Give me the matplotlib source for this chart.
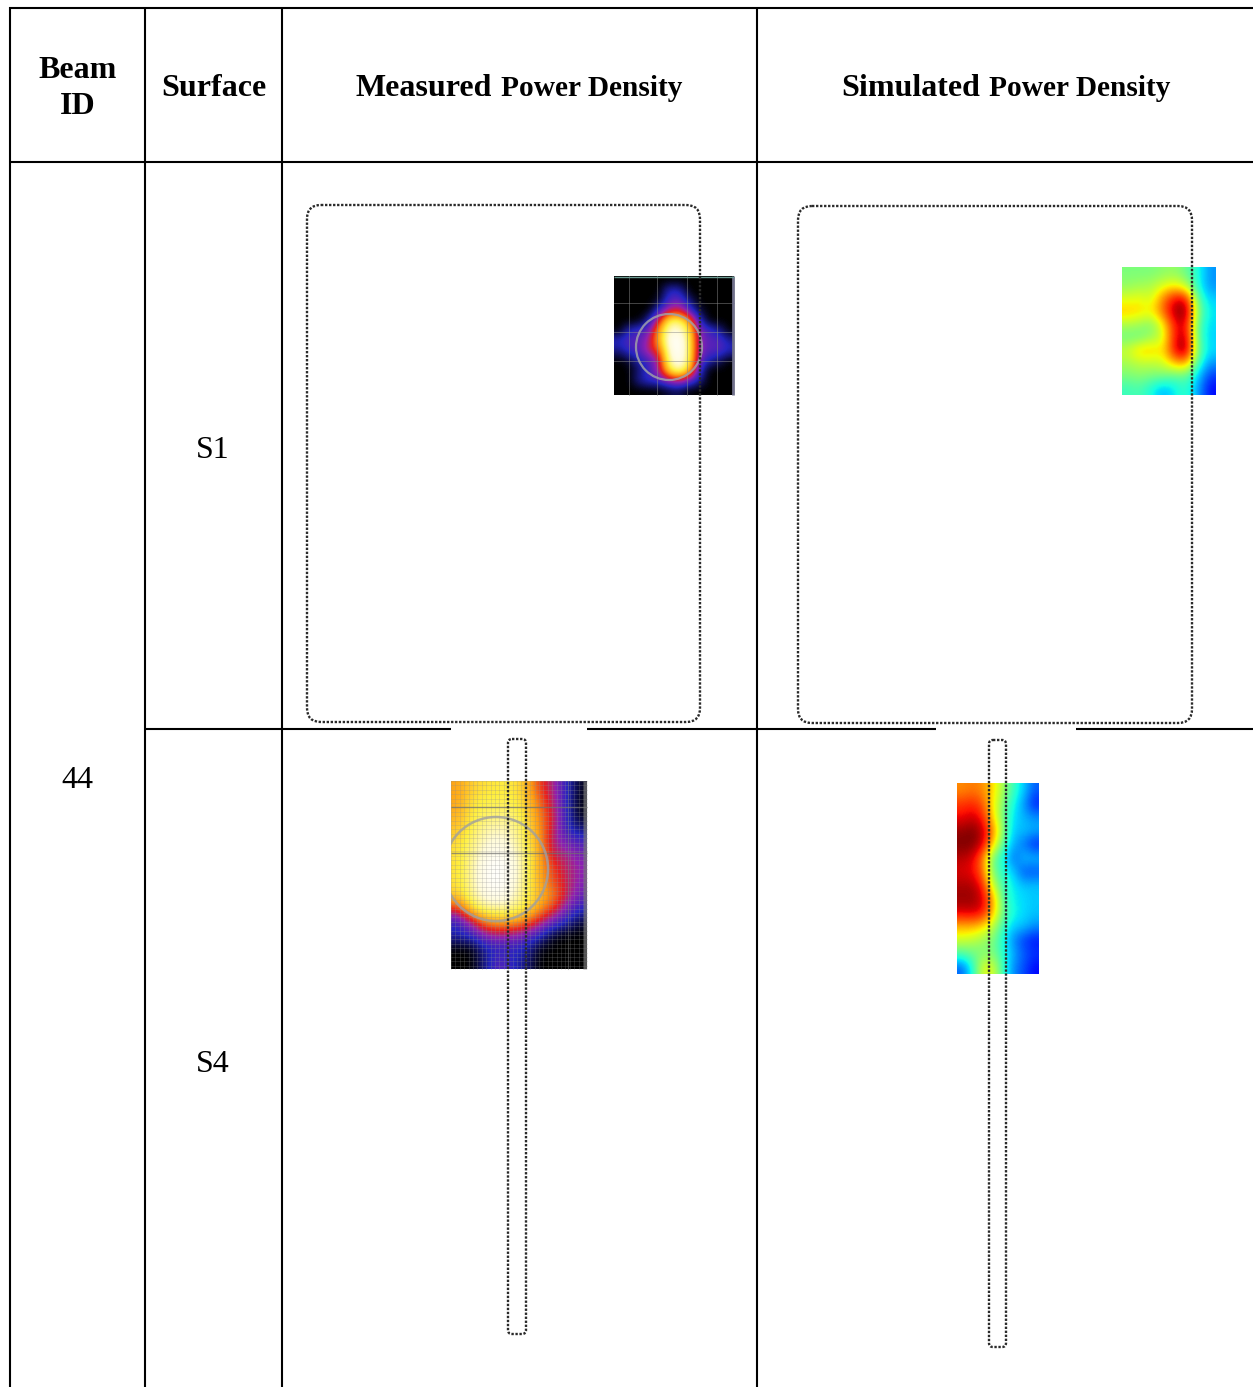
import numpy as np
import matplotlib
matplotlib.use("Agg")
import matplotlib.pyplot as plt
from matplotlib.colors import LinearSegmentedColormap
from matplotlib.patches import FancyBboxPatch, Circle, Rectangle

plt.rcParams["font.family"] = ["Liberation Serif", "DejaVu Serif"]

beam_id = "44"
surfaces = ["S1", "S4"]

# power density, read by eye, 0..1
measured_s1 = [
    [0, 0, 0, 0, 0, 0, 0, 0, 0, 0, 0, 0],
    [0, 0, 0, 0, 0, .16, .16, 0, 0, 0, 0, 0],
    [0, 0, 0, 0, .03, .2, .24, .1, 0, 0, 0, 0],
    [0, 0, 0, 0, .18, .36, .42, .22, .05, 0, 0, 0],
    [0, 0, 0, .14, .4, .78, .8, .6, .18, 0, 0, 0],
    [0, .15, .2, .24, .6, .9, .92, .75, .28, .2, .12, 0],
    [.16, .22, .22, .34, .62, .95, 1, .8, .3, .22, .22, .12],
    [.1, .18, .22, .36, .48, .9, 1, .8, .3, .22, .22, .15],
    [0, .04, .14, .2, .34, .85, .98, .8, .26, .14, .08, 0],
    [0, 0, .08, .18, .34, .72, .88, .68, .2, 0, 0, 0],
    [0, 0, .12, .18, .2, .32, .38, .26, .12, 0, 0, 0],
    [0, 0, 0, 0, 0, .04, .06, 0, 0, 0, 0, 0],
]
simulated_s1 = [
    [.5, .5, .5, .52, .53, .48, .38, .27],
    [.53, .55, .56, .62, .66, .58, .38, .27],
    [.62, .64, .6, .78, .92, .92, .44, .33],
    [.7, .68, .65, .8, .97, 1.0, .5, .35],
    [.56, .54, .5, .64, .9, .92, .44, .34],
    [.48, .48, .54, .6, .9, .96, .44, .33],
    [.6, .7, .7, .66, .92, 1.0, .47, .34],
    [.55, .58, .58, .6, .72, .74, .42, .27],
    [.5, .52, .5, .5, .46, .47, .32, .18],
    [.42, .44, .38, .3, .36, .42, .28, .13],
]
measured_s4 = [
    [.6, .68, .72, .74, .74, .66, .46, .34, .16, .02],
    [.6, .72, .76, .76, .76, .7, .52, .36, .15, .01],
    [.62, .74, .78, .8, .8, .72, .55, .4, .16, .01],
    [.66, .76, .84, .87, .84, .75, .58, .38, .16, .08],
    [.7, .8, .88, .92, .88, .76, .6, .34, .25, .2],
    [.72, .82, .93, .98, .92, .8, .62, .38, .34, .26],
    [.72, .84, .97, 1, .95, .8, .62, .46, .36, .3],
    [.72, .84, .97, 1, .94, .8, .62, .48, .38, .28],
    [.68, .82, .93, .97, .9, .78, .64, .56, .38, .24],
    [.44, .72, .82, .84, .83, .74, .6, .46, .26, .16],
    [.16, .34, .56, .62, .6, .54, .38, .24, .14, .04],
    [.14, .16, .28, .32, .3, .24, .16, .02, 0, 0],
    [0, 0, .12, .16, .16, .14, .01, 0, 0, 0],
    [0, 0, .1, .24, .16, .1, 0, 0, 0, 0],
]
simulated_s4 = [
    [.76, .78, .76, .68, .55, .42, .33, .22],
    [.85, .87, .82, .66, .5, .38, .28, .15],
    [.9, .93, .88, .68, .48, .35, .3, .27],
    [.98, 1, .95, .78, .52, .32, .32, .3],
    [1, 1, .93, .7, .45, .3, .24, .15],
    [.95, .92, .78, .48, .38, .22, .32, .32],
    [.92, .9, .8, .5, .4, .33, .2, .2],
    [.96, .96, .88, .6, .42, .36, .32, .32],
    [.98, .98, .93, .75, .45, .36, .34, .32],
    [.92, .93, .9, .72, .48, .38, .34, .32],
    [.72, .72, .68, .58, .42, .33, .32, .27],
    [.6, .58, .54, .5, .38, .26, .18, .14],
    [.45, .48, .5, .5, .4, .3, .22, .18],
    [.22, .38, .62, .62, .42, .26, .2, .13],
]

fire = LinearSegmentedColormap.from_list("fire", [
    (0, "#000000"), (.07, "#101060"), (.15, "#2424c0"), (.3, "#9020b0"),
    (.42, "#e82020"), (.58, "#ff9a10"), (.75, "#fff040"), (.9, "#fffbd8"), (1, "#ffffff")])

fig = plt.figure(figsize=(12.53, 13.87), dpi=100)
ax = fig.add_axes([0, 0, 1, 1])

def heat(data, extent, cmap):
    ax.imshow(np.array(data), extent=extent, cmap=cmap, vmin=0, vmax=1,
              interpolation="bicubic", aspect="auto", zorder=2)

# extent: left, right, bottom, top in pixels of the page
heat(measured_s1, (614, 734, 395, 276), fire)
heat(simulated_s1, (1122, 1216, 395, 267), "jet")
heat(measured_s4, (451, 587, 969, 781), fire)
heat(simulated_s4, (957, 1039, 974, 783), "jet")

# raster of the beam camera
for x in [629, 657, 687, 717]:
    ax.plot([x, x], [276, 395], color="#8a8a8a", lw=0.7, alpha=0.5, zorder=3)
for y in [303, 332, 361]:
    ax.plot([614, 734], [y, y], color="#8a8a8a", lw=0.7, alpha=0.5, zorder=3)
for x in np.arange(451, 587, 4.4):
    ax.plot([x, x], [781, 969], color="#909090", lw=0.5, alpha=0.35, zorder=3)
for y in np.arange(781, 969, 4.4):
    ax.plot([451, 587], [y, y], color="#909090", lw=0.5, alpha=0.35, zorder=3)
for y in [807, 853]:
    ax.plot([451, 587], [y, y], color="#707070", lw=1.0, alpha=0.7, zorder=3, solid_capstyle="butt")
ax.plot([568, 568], [781, 969], color="#808080", lw=0.8, alpha=0.5, zorder=3)
ax.plot([584.8, 584.8], [781, 969], color="#777777", lw=2.4, alpha=0.7, zorder=3, solid_capstyle="butt")
ax.plot([732.5, 732.5], [276, 395], color="#70708a", lw=2.0, zorder=3, solid_capstyle="butt")
ax.plot([614, 734], [276.5, 276.5], color="#6a9a90", lw=1.0, zorder=3, solid_capstyle="butt")
ring = Circle((669, 347), 33, fill=False, ec="#a0a0a8", lw=1.6, alpha=0.85, zorder=3)
ax.add_patch(ring)
ring2 = Circle((496, 869), 52, fill=False, ec="#a0a0a0", lw=1.8, alpha=0.8, zorder=3)
ax.add_patch(ring2)
ring2.set_clip_path(Rectangle((451, 781), 136, 188, transform=ax.transData))

# dotted outlines of the module faces
for left, top, right, bottom, rad in [(307, 205, 700, 722, 14), (798, 206, 1192, 723, 14),
                                      (508, 739, 526, 1334, 4), (989, 740, 1006, 1347, 4)]:
    ax.add_patch(FancyBboxPatch((left + rad, top + rad), right - left - 2 * rad, bottom - top - 2 * rad,
                                boxstyle=f"round,pad={rad},rounding_size={rad}", fill=False,
                                ec="#2a2a2a", lw=1.7, ls=(0, (1.0, 0.7)), zorder=4))

# table rules
rule = dict(color="black", lw=1.5, zorder=1, solid_capstyle="butt")
for x in [9.5, 145, 282, 757]:
    ax.plot([x, x], [7, 1387], **rule)
for y in [7.5, 162]:
    ax.plot([9, 1253], [y, y], **rule)
for x0, x1 in [(145, 451), (587, 936), (1076, 1253)]:
    ax.plot([x0, x1], [729, 729], **rule)

# header
head = dict(fontweight="bold", va="center", color="black")
ax.text(77.5, 70, "Beam", fontsize=23, ha="center", **head)
ax.text(77.5, 106, "ID", fontsize=23, ha="center", **head)
ax.text(214, 89, "Surface", fontsize=23, ha="center", **head)
ax.text(356, 88.5, "Measured", fontsize=23, ha="left", **head)
ax.text(501, 89, "Power Density", fontsize=21.2, ha="left", **head)
ax.text(841.5, 88.5, "Simulated", fontsize=23, ha="left", **head)
ax.text(989, 89, "Power Density", fontsize=21.2, ha="left", **head)

body = dict(ha="center", va="center", color="black", fontsize=23)
ax.text(77, 780.5, beam_id, **body)
ax.text(213, 450.5, surfaces[0], **body)
ax.text(213, 1064.5, surfaces[1], **body)

ax.set_xlim(0, 1253)
ax.set_ylim(1387, 0)
ax.axis("off")
fig.savefig("out.png", dpi=100)
